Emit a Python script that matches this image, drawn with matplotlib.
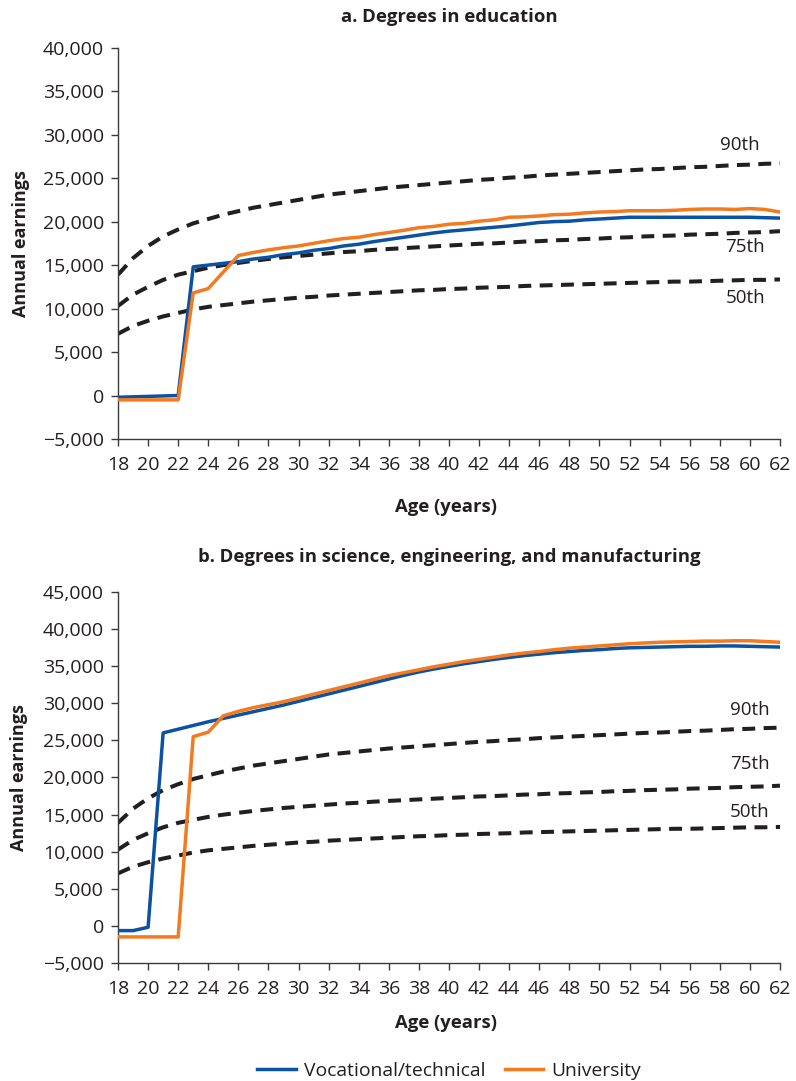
import numpy as np
import matplotlib
matplotlib.use("Agg")
import matplotlib.pyplot as plt
from matplotlib.ticker import FuncFormatter

plt.rcParams['font.family'] = ['Open Sans', 'DejaVu Sans']

# ages 18..62
ages = list(range(18, 63))

# earnings percentiles (thousands), same in both panels
p90 = [13.9, 15.8, 17.2, 18.3, 19.1, 19.8, 20.3, 20.8, 21.2, 21.6, 21.9, 22.2, 22.5, 22.8, 23.1,
       23.3, 23.5, 23.7, 23.9, 24.05, 24.2, 24.35, 24.5, 24.65, 24.8, 24.9, 25.05, 25.15, 25.3,
       25.4, 25.5, 25.6, 25.7, 25.8, 25.9, 26.0, 26.05, 26.15, 26.25, 26.3, 26.4, 26.5, 26.55,
       26.65, 26.7]
p75 = [10.3, 11.6, 12.5, 13.3, 13.9, 14.3, 14.7, 15.0, 15.25, 15.5, 15.7, 15.9, 16.05, 16.2, 16.35,
       16.5, 16.6, 16.75, 16.85, 16.95, 17.05, 17.15, 17.25, 17.35, 17.45, 17.5, 17.6, 17.7, 17.75,
       17.85, 17.9, 18.0, 18.05, 18.15, 18.2, 18.3, 18.35, 18.4, 18.5, 18.55, 18.6, 18.7, 18.75,
       18.8, 18.9]
p50 = [7.1, 8.0, 8.6, 9.1, 9.5, 9.9, 10.2, 10.4, 10.6, 10.8, 10.95, 11.1, 11.25, 11.35, 11.5,
       11.6, 11.7, 11.8, 11.9, 12.0, 12.1, 12.15, 12.25, 12.3, 12.4, 12.45, 12.5, 12.6, 12.65,
       12.7, 12.75, 12.8, 12.85, 12.9, 12.95, 13.0, 13.05, 13.1, 13.1, 13.15, 13.2, 13.25, 13.3,
       13.3, 13.35]

# a. education degrees (thousands)
edu_voc = [-0.2, -0.15, -0.1, -0.05, 0.0, 14.8, 15.0, 15.2, 15.4, 15.7, 15.9, 16.2, 16.4, 16.7, 16.9,
           17.2, 17.4, 17.7, 17.95, 18.2, 18.45, 18.7, 18.9, 19.05, 19.2, 19.35, 19.5, 19.7, 19.9,
           20.0, 20.05, 20.2, 20.3, 20.4, 20.5, 20.5, 20.5, 20.5, 20.5, 20.5, 20.5, 20.5, 20.5,
           20.45, 20.4]
edu_uni = [-0.5, -0.5, -0.5, -0.5, -0.5, 11.8, 12.3, 14.2, 16.1, 16.45, 16.75, 17.0, 17.2, 17.5, 17.8,
           18.05, 18.2, 18.5, 18.75, 19.0, 19.3, 19.45, 19.7, 19.8, 20.05, 20.2, 20.5, 20.55, 20.65,
           20.8, 20.85, 21.0, 21.1, 21.15, 21.25, 21.25, 21.25, 21.3, 21.4, 21.45, 21.45, 21.4, 21.5,
           21.4, 21.1]

# b. science, engineering, manufacturing (thousands)
sci_voc = [-0.6, -0.6, -0.15, 26.0, 26.5, 27.0, 27.5, 27.95, 28.4, 28.85, 29.3, 29.75, 30.25, 30.75,
           31.25, 31.75, 32.25, 32.75, 33.25, 33.75, 34.2, 34.6, 34.95, 35.3, 35.6, 35.9, 36.15,
           36.4, 36.6, 36.8, 36.95, 37.1, 37.2, 37.35, 37.45, 37.5, 37.55, 37.6, 37.65, 37.65, 37.7,
           37.7, 37.65, 37.6, 37.55]
sci_uni = [-1.45, -1.45, -1.45, -1.45, -1.45, 25.5, 26.1, 28.3, 28.9, 29.4, 29.8, 30.2, 30.7, 31.2,
           31.7, 32.2, 32.7, 33.2, 33.7, 34.1, 34.5, 34.9, 35.25, 35.6, 35.9, 36.2, 36.5, 36.75,
           36.95, 37.2, 37.4, 37.55, 37.7, 37.85, 38.0, 38.1, 38.2, 38.25, 38.3, 38.35, 38.35, 38.4,
           38.4, 38.3, 38.2]

pct_names = ['90th', '75th', '50th']

BLUE = '#0b52a3'
ORANGE = '#f47a20'
DARK = '#231f20'
TXT = '#231f20'

fig = plt.figure(figsize=(7.96, 10.81), dpi=100)
W, H = 796, 1081


def px_axes(left, top, right, bottom):
    return fig.add_axes([left / W, 1 - bottom / H, (right - left) / W, (bottom - top) / H])


ax_a = px_axes(118, 47.7, 780, 439)
ax_b = px_axes(118, 591.7, 780, 963.3)

fmt = FuncFormatter(lambda v, p: f'{int(v):,}'.replace('-', '\u2212'))


def draw_panel(ax, voc, uni, ymax, label_pos):
    x = np.array(ages)
    for p in (p90, p75, p50):
        ax.plot(x, np.array(p) * 1000, color=DARK, lw=2.9, ls=(0, (3.2, 2.1)),
                dash_capstyle='butt', zorder=2)
    ax.plot(x, np.array(voc) * 1000, color=BLUE, lw=2.5, zorder=3, label='Vocational/technical')
    ax.plot(x, np.array(uni) * 1000, color=ORANGE, lw=2.5, zorder=3, label='University')
    for name, (lx, ly) in zip(pct_names, label_pos):
        ax.text(lx, ly * 1000, name, ha='center', va='center', fontsize=13.5, color=TXT)
    ax.set_xlim(18, 62)
    ax.set_ylim(-5000, ymax)
    ax.set_xticks(range(18, 63, 2))
    ax.set_yticks(range(-5000, ymax + 1, 5000))
    ax.yaxis.set_major_formatter(fmt)
    for s in ('top', 'right'):
        ax.spines[s].set_visible(False)
    for s in ('left', 'bottom'):
        ax.spines[s].set_color('#3a3a3a')
        ax.spines[s].set_linewidth(1.0)
    ax.tick_params(axis='both', direction='out', length=5, width=1.0, color='#3a3a3a',
                   labelsize=14, labelcolor=TXT)
    ax.tick_params(axis='x', pad=7)
    ax.tick_params(axis='y', pad=5)
    ax.set_xlabel('Age (years)', fontsize=13.3, fontweight='bold', color=TXT)
    ax.set_ylabel('Annual earnings', fontsize=13, fontweight='bold', color=TXT)
    ax.set_facecolor('none')


draw_panel(ax_a, edu_voc, edu_uni, 40000, [(59.3, 28.85), (59.7, 17.1), (59.7, 11.2)])
draw_panel(ax_b, sci_voc, sci_uni, 45000, [(60.0, 29.1), (60.0, 21.8), (60.0, 15.4)])

# label placement (pixel offsets from the axes)
ax_a.xaxis.set_label_coords(0.495, -(498 - 439) / (439 - 47.7))
ax_b.xaxis.set_label_coords(0.495, -(1014 - 963.3) / (963.3 - 591.7))
ax_a.yaxis.set_label_coords(-(118 - 30) / 662, 0.5)
ax_b.yaxis.set_label_coords(-(118 - 28) / 662, 0.5)

fig.text(449 / W, 1 - 17 / H, 'a. Degrees in education', ha='center', va='center',
         fontsize=13.3, fontweight='bold', color=TXT)
fig.text(449 / W, 1 - 557 / H, 'b. Degrees in science, engineering, and manufacturing',
         ha='center', va='center', fontsize=13.3, fontweight='bold', color=TXT)

handles, labels = ax_b.get_legend_handles_labels()
fig.legend(handles, labels, loc='center', bbox_to_anchor=(449 / W, 1 - 1071 / H), ncol=2,
           frameon=False, fontsize=13.9, handlelength=2.0, handletextpad=0.4,
           columnspacing=1.0, borderpad=0, labelcolor=TXT)

fig.savefig('out.png', dpi=100)
